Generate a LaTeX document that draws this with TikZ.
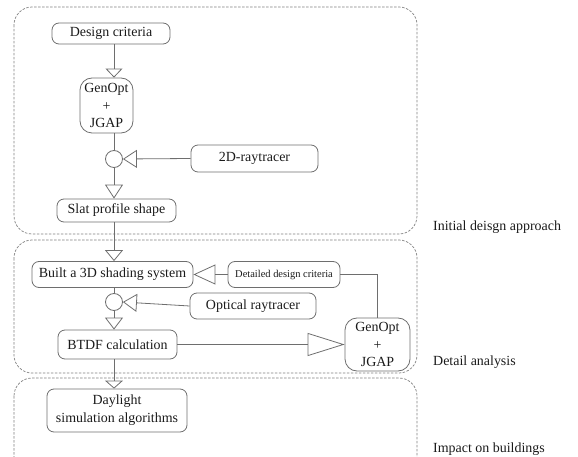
\documentclass[tikz,border=0pt]{standalone}
\usepackage{fontspec}
\setmainfont{Liberation Serif}
\usetikzlibrary{arrows.meta}
\definecolor{ln}{HTML}{6E6E6E}
\definecolor{gl}{HTML}{808080}
\definecolor{tx}{HTML}{1A1A1A}
\begin{document}
\begin{tikzpicture}[x=1bp,y=-1bp,
  box/.style={draw=ln, line width=0.8bp, rounded corners=7bp, text=tx,
    font=\fontsize{14}{18}\selectfont, inner sep=0pt, align=center},
  bigbox/.style={box, rounded corners=12bp},
  grp/.style={draw=gl, line width=0.7bp, dash pattern=on 2.5bp off 1.5bp, rounded corners=18bp},
  conn/.style={draw=ln, line width=0.8bp},
  junc/.style={circle, draw=ln, line width=0.8bp, inner sep=0pt, minimum size=17bp},
  lbl/.style={text=tx, font=\fontsize{14}{16}\selectfont, anchor=west, inner sep=0pt}
]
\useasboundingbox (0,0) rectangle (578,457);
% groups
\draw[grp] (14,7) rectangle (417,234);
\draw[grp] (14,240) rectangle (417,373);
\draw[grp] (14,378) rectangle (417,480);
% nodes
\node[box, minimum width=118bp, minimum height=21bp] (dc) at (111,33.5) {Design criteria};
\node[bigbox, minimum width=53bp, minimum height=55bp] (g1) at (106.5,105.5) {GenOpt\\+\\JGAP};
\node[junc] (c1) at (114,159) {};
\node[box, minimum width=127bp, minimum height=27bp] (rt) at (254.5,158.5) {2D-raytracer};
\node[box, minimum width=119bp, minimum height=23bp] (sp) at (116.5,210.5) {Slat profile shape};
\node[box, minimum width=161bp, minimum height=26bp] (bd) at (112.5,274.5) {Built a 3D shading system};
\node[box, minimum width=112bp, minimum height=26bp, font=\fontsize{10.5}{12}\selectfont] (dd) at (284,274.5) {Detailed design criteria};
\node[junc] (c2) at (114,302) {};
\node[box, minimum width=126bp, minimum height=26bp] (op) at (253,306) {Optical raytracer};
\node[box, minimum width=119bp, minimum height=29bp] (bt) at (117.5,344.5) {BTDF calculation};
\node[bigbox, minimum width=65bp, minimum height=53bp] (g2) at (377.5,344.5) {GenOpt\\+\\JGAP};
\node[box, minimum width=140bp, minimum height=43bp] (dl) at (117,410.5) {Daylight\\simulation algorithms};
% labels
\node[lbl] (l1) at (433,227) {Initial deisgn approach};
\node[lbl] (l2) at (433,362) {Detail analysis};
\node[lbl] (l3) at (433,449) {Impact on buildings};
% connectors
\draw[conn, -{Triangle[open,length=9bp,width=17bp]}] (dc.south -| c1) -- (g1.north -| c1);
\draw[conn] (g1.south -| c1) -- (c1.north);
\draw[conn, -{Triangle[open,length=14bp,width=18bp]}] (rt.west) -- (c1.east);
\draw[conn, -{Triangle[open,length=14bp,width=18bp]}] (c1.south) -- (sp.north -| c1);
\draw[conn, -{Triangle[open,length=11bp,width=18bp]}] (sp.south -| c1) -- (bd.north -| c1);
\draw[conn, -{Triangle[open,length=22bp,width=20bp]}] (dd.west) -- (bd.east);
\draw[conn] (dd.east) -| (g2.north);
\draw[conn] (bd.south -| c2) -- (c2.north);
\draw[conn, -{Triangle[open,length=14bp,width=18bp]}] (op.west) -- (c2.east);
\draw[conn, -{Triangle[open,length=12bp,width=18bp]}] (c2.south) -- (bt.north -| c2);
\draw[conn, -{Triangle[open,length=37bp,width=23bp]}] (bt.east) -- (g2.west);
\draw[conn, -{Triangle[open,length=8bp,width=18bp]}] (bt.south -| c2) -- (dl.north -| c2);
\end{tikzpicture}
\end{document}
